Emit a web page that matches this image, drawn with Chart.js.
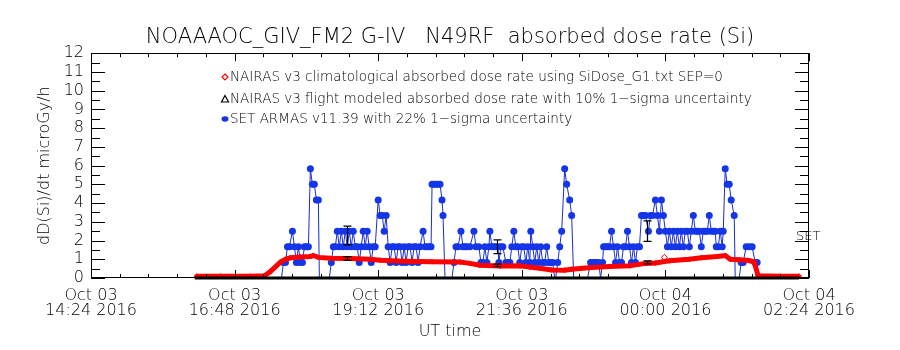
<!DOCTYPE html>
<html>
<head>
<meta charset="utf-8">
<script src="https://cdn.jsdelivr.net/npm/chart.js@4.4.1/dist/chart.umd.min.js"></script>
<style>
  html, body { margin: 0; padding: 0; background: #fff; }
  canvas { display: block; }
</style>
</head>
<body>
<canvas id="doseChart" width="900" height="350"></canvas>
<script>
// x values are minutes after Oct 03 14:24 UT
const xTickLabels = [
  ['Oct 03', '14:24 2016'], ['Oct 03', '16:48 2016'], ['Oct 03', '19:12 2016'],
  ['Oct 03', '21:36 2016'], ['Oct 04', '00:00 2016'], ['Oct 04', '02:24 2016']
];

const legendLines = [
  'NAIRAS v3 climatological absorbed dose rate using SiDose_G1.txt SEP=0',
  'NAIRAS v3 flight modeled absorbed dose rate with 10% 1\u2212sigma uncertainty',
  'SET ARMAS v11.39 with 22% 1\u2212sigma uncertainty'
];

// NAIRAS climatological (red diamonds)
const nairasClim = [
  [106,0.1],[130,0.1],[160,0.1],[174,0.12],[180,0.35],[185,0.6],[190,0.85],[195,1.0],
  [200,1.08],[210,1.12],[220,1.15],[223,1.2],[228,1.1],[240,1.05],[260,1.04],[280,1.0],
  [290,0.95],[316,0.9],[342,0.87],[370,0.85],[380,0.78],[390,0.68],[410,0.64],[430,0.65],
  [440,0.58],[450,0.52],[462,0.43],[475,0.42],[482,0.47],[502,0.56],[520,0.62],[540,0.65],
  [556,0.78],[566,0.8],[580,0.92],[600,1.0],[612,1.08],[628,1.15],[636,1.2],[641,1.0],
  [650,0.97],[660,0.93],[665,0.85],[669,0.12],[690,0.1],[710,0.1]
];
const nairasClimLone = [[575,1.1]];

// NAIRAS flight track (black) at zero
const flightBase = [[104,0],[710,0]];

// SET ARMAS (blue dots)
const setArmas = [
  [105,0],[150,0],[191,0],
  [193,0.83],[195,0.83],[197,1.67],[199,1.67],[202,2.5],[204,1.67],[206,0.83],[208,1.67],[210,0.83],
  [212,0.83],[214,1.67],[216,1.67],[218,1.67],[220,5.83],[222,5],[224,5],[226,4.17],[228,4.17],[229,0],
  [234,0],[239,0],
  [241,0.83],[243,1.67],[245,1.67],[247,2.5],[249,1.67],[251,2.5],[253,1.67],[255,2.5],[257,1.67],
  [259,2.5],[261,1.67],[263,2.5],[265,1.67],[267,1.67],[269,0.83],[271,1.67],[273,2.5],[275,1.67],
  [277,2.5],[279,1.67],[281,0.83],[283,1.67],[285,1.67],[288,4.17],[290,3.33],[292,3.33],[294,2.5],
  [296,3.33],[298,1.67],[300,0.83],[302,1.67],[304,1.67],[306,0.83],[308,1.67],[310,1.67],[312,0.83],
  [314,1.67],[316,0.83],[318,1.67],[320,1.67],[322,0.83],[324,1.67],[326,1.67],[328,0.83],[330,1.67],
  [333,2.5],[335,1.67],[337,1.67],[339,1.67],[341,1.67],[342,5],[344,5],[346,5],[348,5],[350,5],
  [352,4.17],[353,3.33],[355,0],
  [357,0],[362,0],
  [364,0.83],[366,1.67],[368,1.67],[371,2.5],[373,1.67],[375,1.67],[377,1.67],[380,1.67],[384,2.5],
  [386,1.67],[389,1.67],[391,0.83],[393,0.83],[395,1.67],[397,0.83],[399,1.67],[400,2.5],[402,1.67],
  [404,1.67],[406,1.67],[408,1.67],[409,0.83],[411,1.67],[413,1.67],[416,0.83],[418,0.83],[420,0.83],
  [422,1.67],[424,2.5],[426,1.67],[428,1.67],[430,0.83],[432,1.67],[434,1.67],[436,0.83],[438,1.67],
  [440,0.83],[441,2.5],[443,1.67],[445,0.83],[447,1.67],[449,0.83],[451,1.67],[453,0.83],[455,0.83],
  [457,1.67],[459,0.83],[461,0.83],[463,0.83],[465,0],[466,0],[468,0.83],[470,1.67],[472,2.5],
  [475,5.83],[477,5],[480,4.17],[482,3.33],[484,0],
  [490,0],[498,0],
  [501,0.83],[503,0.83],[505,0.83],[507,0.83],[509,0.83],[511,0],[513,0.83],[514,1.67],[516,1.67],
  [518,1.67],[520,1.67],[522,2.5],[524,1.67],[526,0.83],[528,1.67],[530,0.83],[532,0.83],[534,1.67],
  [536,1.67],[538,2.5],[540,1.67],[542,0.83],[544,1.67],[546,0.83],[548,1.67],[550,1.67],[552,3.33],
  [554,3.33],[556,3.33],[559,2.5],[561,3.33],[563,3.33],[566,4.17],[568,3.33],[570,2.5],[572,4.17],
  [574,3.33],[576,2.5],[578,1.67],[580,2.5],[582,1.67],[584,2.5],[586,1.67],[588,2.5],[590,1.67],
  [592,2.5],[594,1.67],[596,2.5],[598,2.5],[600,1.67],[602,2.5],[604,3.33],[606,2.5],[608,2.5],
  [610,2.5],[612,1.67],[614,2.5],[616,2.5],[618,2.5],[620,3.33],[622,2.5],[624,2.5],[626,2.5],
  [627,1.67],[629,1.67],[631,2.5],[633,1.67],[634,2.5],[636,5.83],[638,5],[640,5],[642,4.17],
  [645,3.33],[646,0],
  [650,0],[652,0.83],[654,0.83],[657,1.67],[660,1.67],[663,1.67],[666,0.83],[668,0.83],[669,0],
  [690,0],[710,0]
];

// error bars
const errMin = [257, 407, 558];
const setErrMid = [2.27, 1.67, 2.5];
const setErrSig = [0.5, 0.37, 0.55];
const flightMid = [1.04, 0.67, 0.83];
const flightSig = [0.1, 0.07, 0.08];

const FONT = 'DejaVu Sans';
const toXY = arr => arr.map(p => ({x: p[0], y: p[1]}));

const errorBars = {
  id: 'errorBars',
  afterDatasetsDraw(chart) {
    const {ctx, scales: {x, y}} = chart;
    ctx.save();
    ctx.strokeStyle = '#000';
    ctx.lineWidth = 1.2;
    const bar = (t, mid, sig) => {
      const px = Math.round(x.getPixelForValue(t)) + 0.5;
      const y1 = y.getPixelForValue(mid - sig), y2 = y.getPixelForValue(mid + sig);
      ctx.beginPath();
      ctx.moveTo(px, y1); ctx.lineTo(px, y2);
      ctx.moveTo(px - 4, y1); ctx.lineTo(px + 4, y1);
      ctx.moveTo(px - 4, y2); ctx.lineTo(px + 4, y2);
      ctx.stroke();
    };
    errMin.forEach((t, i) => {
      bar(t, setErrMid[i], setErrSig[i]);
      bar(t, flightMid[i], flightSig[i]);
    });
    ctx.restore();
  }
};

const frameTicks = {
  id: 'frameTicks',
  afterDraw(chart) {
    const {ctx, chartArea: a, scales: {x, y}} = chart;
    ctx.save();
    ctx.strokeStyle = '#000';
    ctx.lineWidth = 1;
    ctx.beginPath();
    for (let i = 0; i <= 24; i++) {
      const py = Math.round(y.getPixelForValue(i / 2)) + 0.5;
      const len = i % 2 === 0 ? 14 : 9;
      ctx.moveTo(a.left, py); ctx.lineTo(a.left + len, py);
      ctx.moveTo(a.right, py); ctx.lineTo(a.right - len, py);
    }
    for (let i = 0; i <= 25; i++) {
      const px = Math.round(x.getPixelForValue(i * 28.8)) + 0.5;
      const len = i % 5 === 0 ? 8 : 4;
      ctx.moveTo(px, a.bottom); ctx.lineTo(px, a.bottom - len);
      ctx.moveTo(px, a.top); ctx.lineTo(px, a.top + len);
    }
    ctx.stroke();
    ctx.strokeRect(Math.round(a.left) + 0.5, Math.round(a.top) + 0.5,
      Math.round(a.width) - 1, Math.round(a.height) - 1);

    // legend
    ctx.font = '300 13.5px "' + FONT + '"';
    ctx.fillStyle = '#000';
    ctx.textBaseline = 'middle';
    const lx = 225, ly = [77, 99, 119];
    legendLines.forEach((txt, i) => ctx.fillText(txt, lx + 5, ly[i]));
    ctx.strokeStyle = '#ff0000';
    ctx.lineWidth = 1.2;
    ctx.beginPath();
    ctx.moveTo(lx, ly[0] - 3); ctx.lineTo(lx + 3, ly[0]); ctx.lineTo(lx, ly[0] + 3); ctx.lineTo(lx - 3, ly[0]);
    ctx.closePath(); ctx.stroke();
    ctx.strokeStyle = '#000';
    ctx.beginPath();
    ctx.moveTo(lx, ly[1] - 3.5); ctx.lineTo(lx + 3.5, ly[1] + 3); ctx.lineTo(lx - 3.5, ly[1] + 3);
    ctx.closePath(); ctx.stroke();
    ctx.fillStyle = '#1535e8';
    ctx.beginPath();
    ctx.ellipse(lx, ly[2], 3.5, 2.8, 0, 0, Math.PI * 2);
    ctx.fill();

    // SET label at right edge
    ctx.fillStyle = '#000';
    ctx.font = '300 13px "' + FONT + '"';
    ctx.textBaseline = 'middle';
    ctx.fillText('SET', x.getPixelForValue(707), y.getPixelForValue(2.2));
    ctx.restore();
  }
};

new Chart(document.getElementById('doseChart'), {
  type: 'line',
  data: {
    datasets: [
      {
        label: 'NAIRAS flight',
        data: toXY(flightBase),
        borderColor: '#000000',
        borderWidth: 3,
        pointRadius: 0,
        clip: false,
        order: 0
      },
      {
        label: 'NAIRAS climatological',
        data: toXY(nairasClim),
        borderColor: '#ff0000',
        backgroundColor: '#ff0000',
        borderWidth: 5,
        pointStyle: 'rectRot',
        pointRadius: 2.5,
        pointBorderWidth: 1,
        order: 1
      },
      {
        label: 'NAIRAS climatological (single)',
        data: toXY(nairasClimLone),
        showLine: false,
        pointStyle: 'rectRot',
        pointRadius: 3,
        pointBorderColor: '#ff0000',
        pointBackgroundColor: '#ffffff',
        pointBorderWidth: 1,
        order: 1
      },
      {
        label: 'SET ARMAS',
        data: toXY(setArmas),
        borderColor: '#1a2fd0',
        backgroundColor: '#1535e8',
        borderWidth: 1,
        pointStyle: 'circle',
        pointRadius: ctx => (ctx.raw && ctx.raw.y === 0 ? 0 : 3.5),
        pointBorderWidth: 0,
        order: 2
      }
    ]
  },
  options: {
    responsive: false,
    animation: false,
    devicePixelRatio: 1,
    layout: { padding: 0 },
    plugins: {
      legend: { display: false },
      tooltip: { enabled: false },
      title: {
        display: true,
        text: 'NOAAAOC_GIV_FM2 G-IV   N49RF  absorbed dose rate (Si)',
        color: '#000',
        font: { family: FONT, size: 21, weight: '300', lineHeight: 1.2 },
        padding: { top: 25, bottom: 3 }
      }
    },
    scales: {
      x: {
        type: 'linear',
        min: 0,
        max: 720,
        grid: { display: false, drawTicks: false },
        border: { display: false },
        afterFit: s => { s.height = 72; },
        ticks: {
          stepSize: 144,
          autoSkip: false,
          maxRotation: 0,
          padding: 10,
          color: '#000',
          font: { family: FONT, size: 16, weight: '300', lineHeight: 0.95 },
          callback: v => xTickLabels[Math.round(v / 144)]
        },
        title: {
          display: true,
          text: 'UT time',
          color: '#000',
          font: { family: FONT, size: 16, weight: '300', lineHeight: 1.2 },
          padding: { top: 0, bottom: 9 }
        }
      },
      y: {
        min: 0,
        max: 12,
        grid: { display: false, drawTicks: false },
        border: { display: false },
        afterFit: s => { s.width = 91; },
        ticks: {
          stepSize: 1,
          autoSkip: false,
          padding: 7,
          color: '#000',
          font: { family: FONT, size: 16, weight: '300' }
        },
        title: {
          display: true,
          text: 'dD(Si)/dt microGy/h',
          color: '#000',
          font: { family: FONT, size: 16, weight: '300', lineHeight: 1.2 },
          padding: { top: 35, bottom: 0 }
        }
      },
      yRight: {
        position: 'right',
        display: true,
        grid: { display: false, drawTicks: false },
        border: { display: false },
        ticks: { display: false },
        afterFit: s => { s.width = 91; }
      }
    }
  },
  plugins: [errorBars, frameTicks]
});
</script>
</body>
</html>
